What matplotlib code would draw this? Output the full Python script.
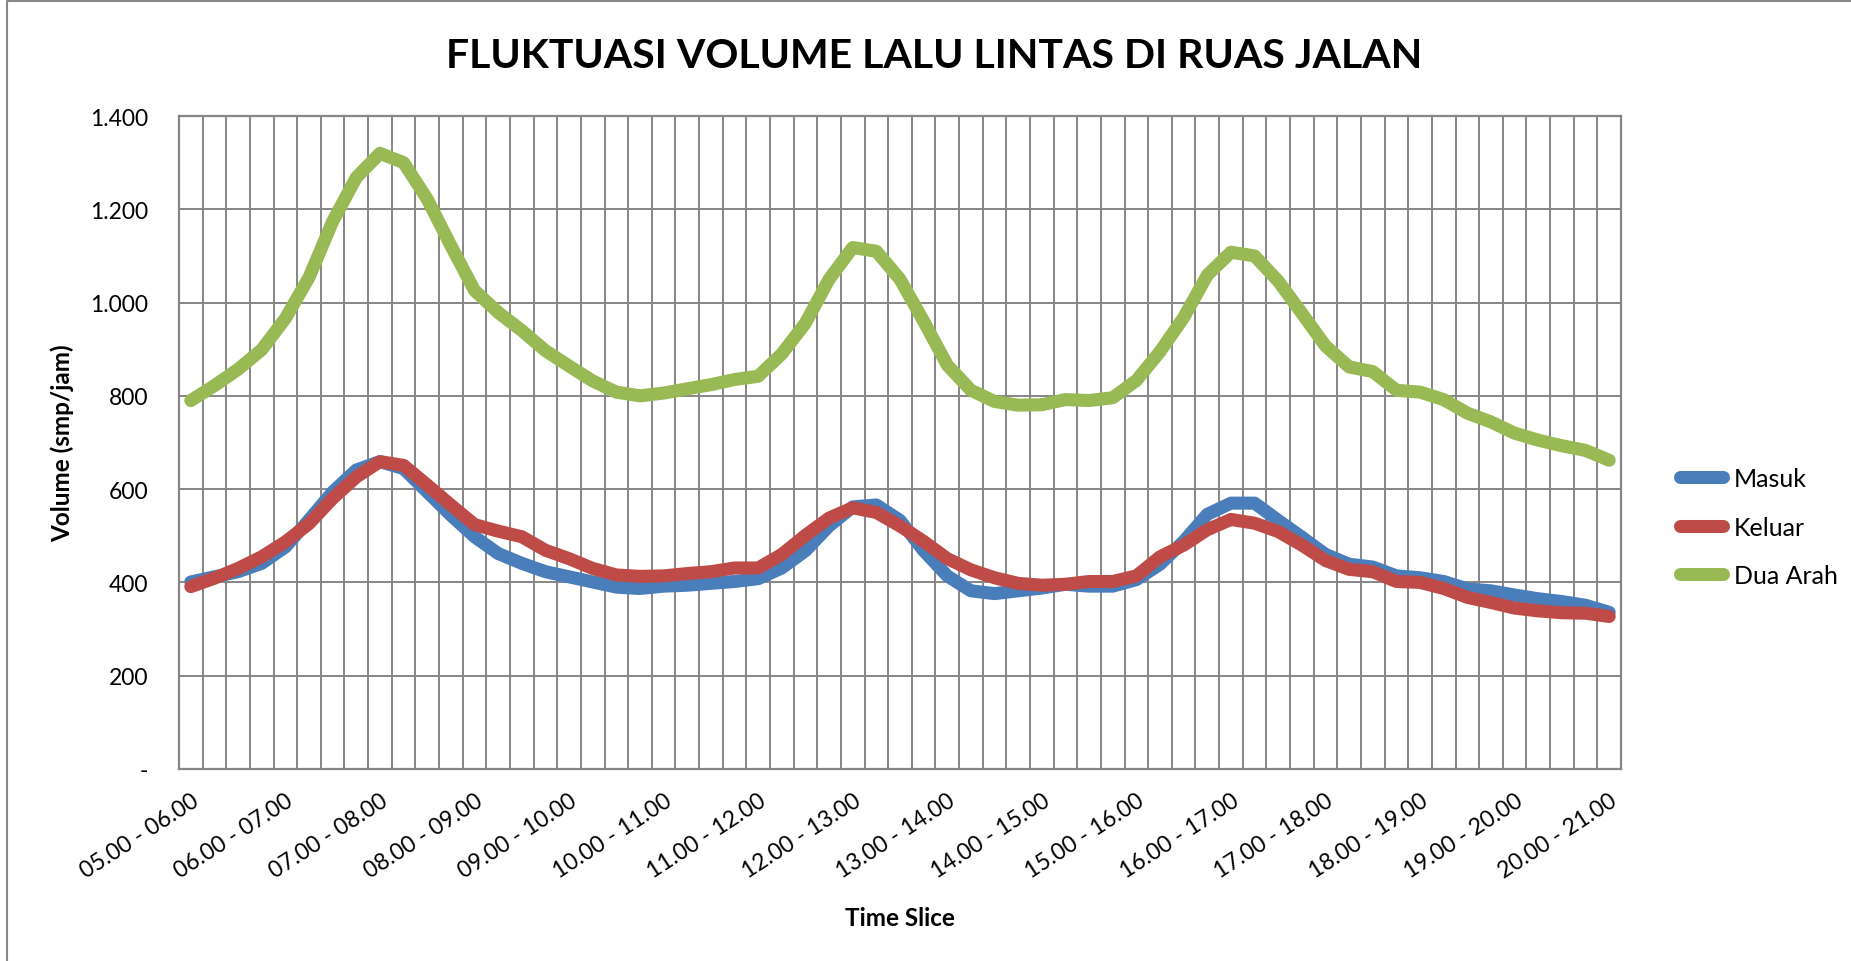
import matplotlib
matplotlib.use("Agg")
import matplotlib.pyplot as plt
from matplotlib.lines import Line2D
from matplotlib.ticker import FixedLocator, FuncFormatter

# ---------------- data ----------------
starts = [f"{h:02d}.{m:02d}" for h in range(5, 21) for m in (0, 15, 30, 45)][:61]
categories = [f"{s} - {int(s[:2]) + 1:02d}.{s[3:]}" for s in starts]

masuk = [401, 412, 423, 441, 476, 534, 594, 641, 659, 644,
         594, 544, 498, 462, 441, 423, 412, 401, 390, 387,
         392, 394, 398, 402, 408, 431, 468, 521, 562, 566,
         533, 468, 414, 382, 376, 382, 388, 396, 392, 392,
         406, 439, 488, 546, 570, 570, 533, 497, 460, 439,
         433, 414, 410, 402, 386, 382, 373, 365, 359, 351,
         336]
keluar = [391, 409, 430, 455, 487, 526, 580, 626, 659, 651,
          609, 566, 524, 510, 498, 469, 451, 430, 416, 413,
          414, 419, 423, 431, 431, 460, 501, 538, 560, 550,
          521, 488, 451, 427, 410, 398, 394, 396, 402, 402,
          414, 455, 480, 513, 535, 527, 509, 480, 447, 428,
          423, 402, 400, 387, 368, 357, 345, 339, 335, 334,
          327]
dua_arah = [790, 822, 857, 899, 966, 1054, 1174, 1268, 1320, 1300,
            1222, 1122, 1026, 979, 940, 897, 864, 832, 808, 800,
            806, 815, 824, 835, 842, 890, 956, 1050, 1118, 1110,
            1050, 960, 866, 812, 788, 780, 781, 792, 790, 796,
            833, 895, 968, 1059, 1108, 1100, 1046, 977, 907, 862,
            852, 812, 808, 792, 763, 744, 720, 705, 693, 683,
            662]
series_names = ["Masuk", "Keluar", "Dua Arah"]
series_colors = ["#4A7EBB", "#BE4B48", "#98B954"]
yticks = [0, 200, 400, 600, 800, 1000, 1200, 1400]

title = "FLUKTUASI VOLUME LALU LINTAS DI RUAS JALAN"
xlabel = "Time Slice"
ylabel = "Volume (smp/jam)"

# ---------------- figure ----------------
plt.rcParams['font.family'] = ['Lato', 'DejaVu Sans']
W, H = 1851, 962
fig = plt.figure(figsize=(W / 100, H / 100), dpi=100)
fig.patch.set_facecolor("white")

L, R, T, B = 179, 1621, 117, 770
ax = fig.add_axes([L / W, 1 - B / H, (R - L) / W, (B - T) / H])

x = list(range(len(categories)))
grid_c = "#868686"
for vals, name, col in zip([masuk, keluar, dua_arah], series_names, series_colors):
    ax.plot(x, vals, color=col, lw=9.4, solid_capstyle="round",
            solid_joinstyle="round", label=name, zorder=3)

ax.set_xlim(-0.5, len(categories) - 0.5)
ax.set_ylim(0, 1400)

# category boundaries as vertical gridlines
ax.xaxis.set_minor_locator(FixedLocator([i - 0.5 for i in range(len(categories) + 1)]))
ax.xaxis.set_major_locator(FixedLocator(list(range(0, len(categories), 4))))
ax.set_xticklabels([categories[i] for i in range(0, len(categories), 4)],
                   rotation=33, ha="right", va="top", rotation_mode="anchor",
                   fontsize=16.5)
ax.grid(which="minor", axis="x", color=grid_c, lw=1.4, zorder=1)
ax.set_yticks(yticks)
ax.yaxis.set_major_formatter(FuncFormatter(
    lambda v, p: "-" if v == 0 else f"{int(v):,}".replace(",", ".")))
ax.grid(which="major", axis="y", color=grid_c, lw=1.4, zorder=1)
ax.tick_params(axis="both", which="both", length=0, labelsize=16.5)
ax.tick_params(axis="x", pad=15)
ax.tick_params(axis="y", pad=22)
for s in ax.spines.values():
    s.set_color(grid_c)
    s.set_linewidth(1.6)
ax.set_axisbelow(True)

ax.set_xlabel(xlabel, fontsize=17.5, fontweight="bold")
ax.xaxis.set_label_coords(0.5, (B - 907) / (B - T))
ax.set_ylabel(ylabel, fontsize=17.5, fontweight="bold")
ax.yaxis.set_label_coords((74 - L) / (R - L), 0.5)

fig.text(934 / W, 1 - 57 / H, title, fontsize=29.5, fontweight="bold",
         ha="center", va="center")

leg = ax.legend(loc="upper left", bbox_to_anchor=(1680 / W, 1 - 468 / H),
                bbox_transform=fig.transFigure, frameon=False, fontsize=18,
                handlelength=1.7, handletextpad=0.45, labelspacing=1.02,
                borderpad=0, borderaxespad=0)
for hl in leg.get_lines():
    hl.set_linewidth(9.4)
    hl.set_solid_capstyle("round")

# chart-area border (only top and left visible)
fig.add_artist(Line2D([7 / W, 7 / W, 1.0], [0.0, 1 - 2 / H, 1 - 2 / H],
                      transform=fig.transFigure, color="#898989", lw=1.5))

fig.savefig("out.png", dpi=100, facecolor="white")
